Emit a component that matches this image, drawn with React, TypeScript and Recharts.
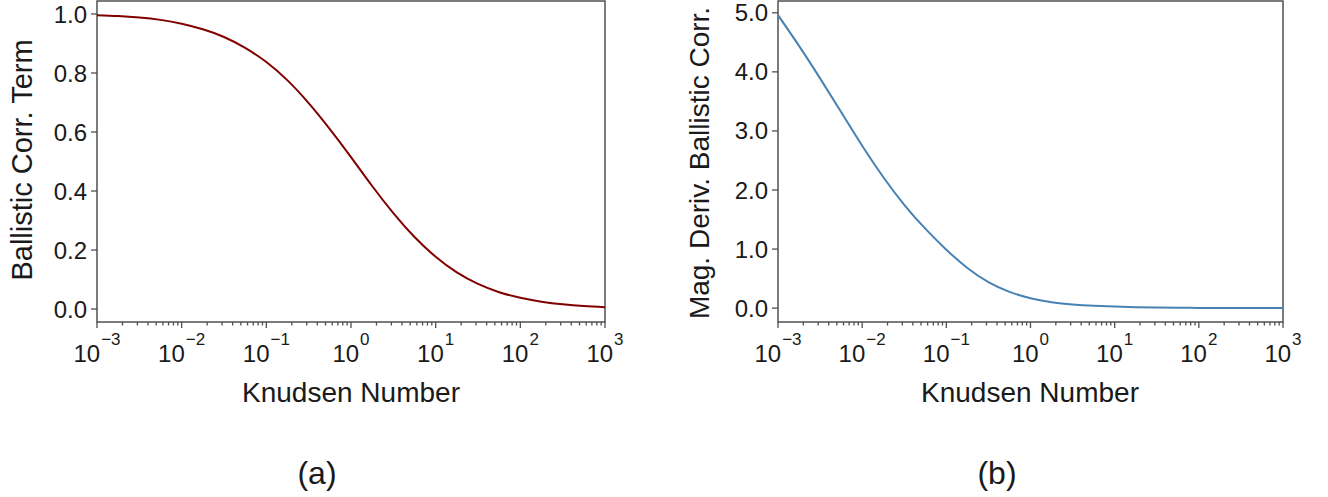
import { LineChart, Line, XAxis, YAxis, ReferenceArea } from "recharts";

// log10 of the Knudsen number, quarter-decade steps
const logKn = [
  -3, -2.75, -2.5, -2.25, -2, -1.75, -1.5, -1.25, -1, -0.75, -0.5, -0.25, 0,
  0.25, 0.5, 0.75, 1, 1.25, 1.5, 1.75, 2, 2.25, 2.5, 2.75, 3,
];

// (a) ballistic correction term
const ballisticTerm = [
  0.996, 0.993, 0.988, 0.98, 0.967, 0.948, 0.922, 0.885, 0.837, 0.775, 0.698,
  0.61, 0.515, 0.417, 0.325, 0.244, 0.177, 0.124, 0.085, 0.057, 0.038, 0.025,
  0.016, 0.01, 0.006,
];

// (b) magnitude of the derivative of the ballistic correction
const ballisticDeriv = [
  4.96, 4.44, 3.89, 3.32, 2.75, 2.22, 1.75, 1.345, 0.99, 0.68, 0.44, 0.275,
  0.167, 0.1, 0.062, 0.04, 0.026, 0.016, 0.01, 0.006, 0.004, 0.003, 0.002,
  0.001, 0.001,
];

const decades = [-3, -2, -1, 0, 1, 2, 3];
const minorMultipliers = [2, 3, 4, 5, 6, 7, 8, 9];
const termTicks = [0, 0.2, 0.4, 0.6, 0.8, 1.0];
const derivTicks = [0, 1, 2, 3, 4, 5];

const dataA = logKn.map((x, i) => ({ x, y: ballisticTerm[i] }));
const dataB = logKn.map((x, i) => ({ x, y: ballisticDeriv[i] }));

const xTicks = [
  ...decades,
  ...decades.slice(0, -1).flatMap((d) => minorMultipliers.map((m) => d + Math.log10(m))),
].sort((a, b) => a - b);

const FONT = '"Liberation Sans", Arial, Helvetica, sans-serif';
const FRAME = "#505050";
const TEXT = "#1a1a1a";

const LogTick = (props: any) => {
  const { x, y, payload } = props;
  const v = payload.value as number;
  const major = Math.abs(v - Math.round(v)) < 1e-6;
  const exp = Math.round(v);
  return (
    <g>
      <line x1={x} x2={x} y1={y} y2={y + (major ? 6 : 3.5)} stroke={FRAME} strokeWidth={1.3} />
      {major && (
        <text x={x} y={y + 40} textAnchor="middle" fill={TEXT} fontFamily={FONT}>
          <tspan fontSize={24}>10</tspan>
          <tspan fontSize={17} dy={-17} dx={1}>
            {exp < 0 ? "\u2212" + Math.abs(exp) : String(exp)}
          </tspan>
        </text>
      )}
    </g>
  );
};

interface PanelProps {
  data: { x: number; y: number }[];
  color: string;
  yDomain: [number, number];
  yTicks: number[];
  yWidth: number;
  rightMargin: number;
}

const Panel = ({ data, color, yDomain, yTicks, yWidth, rightMargin }: PanelProps) => (
  <LineChart
    width={640}
    height={420}
    data={data}
    margin={{ top: 1, right: rightMargin, bottom: 0, left: 0 }}
  >
    <XAxis
      dataKey="x"
      type="number"
      domain={[-3, 3]}
      ticks={xTicks}
      interval={0}
      tickSize={0}
      tickMargin={0}
      tickLine={false}
      axisLine={false}
      tick={<LogTick />}
      height={98}
      allowDataOverflow
    />
    <YAxis
      type="number"
      domain={yDomain}
      ticks={yTicks}
      interval={0}
      width={yWidth}
      tickSize={6}
      tickMargin={4}
      axisLine={false}
      tickLine={{ stroke: FRAME, strokeWidth: 1.3 }}
      tick={{ fontSize: 24, fill: TEXT, fontFamily: FONT }}
      tickFormatter={(v: number) => v.toFixed(1)}
      allowDataOverflow
    />
    <ReferenceArea
      x1={-3}
      x2={3}
      y1={yDomain[0]}
      y2={yDomain[1]}
      fill="none"
      stroke={FRAME}
      strokeWidth={1.5}
      ifOverflow="extendDomain"
    />
    <Line
      dataKey="y"
      type="natural"
      stroke={color}
      strokeWidth={2}
      dot={false}
      isAnimationActive={false}
    />
  </LineChart>
);

export default function App() {
  return (
    <div
      style={{
        position: "absolute",
        left: 0,
        top: 0,
        width: 1328,
        height: 497,
        background: "#fff",
        fontFamily: FONT,
      }}
    >
      <div style={{ position: "absolute", left: 0, top: 0 }}>
        <Panel
          data={dataA}
          color="#800000"
          yDomain={[-0.044, 1.044]}
          yTicks={termTicks}
          yWidth={97}
          rightMargin={35}
        />
      </div>
      <div style={{ position: "absolute", left: 680, top: 0 }}>
        <Panel
          data={dataB}
          color="#4682b4"
          yDomain={[-0.235, 5.2]}
          yTicks={derivTicks}
          yWidth={98}
          rightMargin={37}
        />
      </div>
      <svg
        width={1328}
        height={497}
        style={{ position: "absolute", left: 0, top: 0, pointerEvents: "none" }}
        fontFamily={FONT}
        fill={TEXT}
      >
        <text x={351} y={402} textAnchor="middle" fontSize={28}>
          Knudsen Number
        </text>
        <text x={1030} y={402} textAnchor="middle" fontSize={28}>
          Knudsen Number
        </text>
        <text transform="translate(32,160) rotate(-90)" textAnchor="middle" fontSize={29}>
          Ballistic Corr. Term
        </text>
        <text transform="translate(709,163) rotate(-90)" textAnchor="middle" fontSize={28}>
          Mag. Deriv. Ballistic Corr.
        </text>
        <text x={317} y={484} textAnchor="middle" fontSize={32}>
          (a)
        </text>
        <text x={997} y={484} textAnchor="middle" fontSize={32}>
          (b)
        </text>
      </svg>
    </div>
  );
}
